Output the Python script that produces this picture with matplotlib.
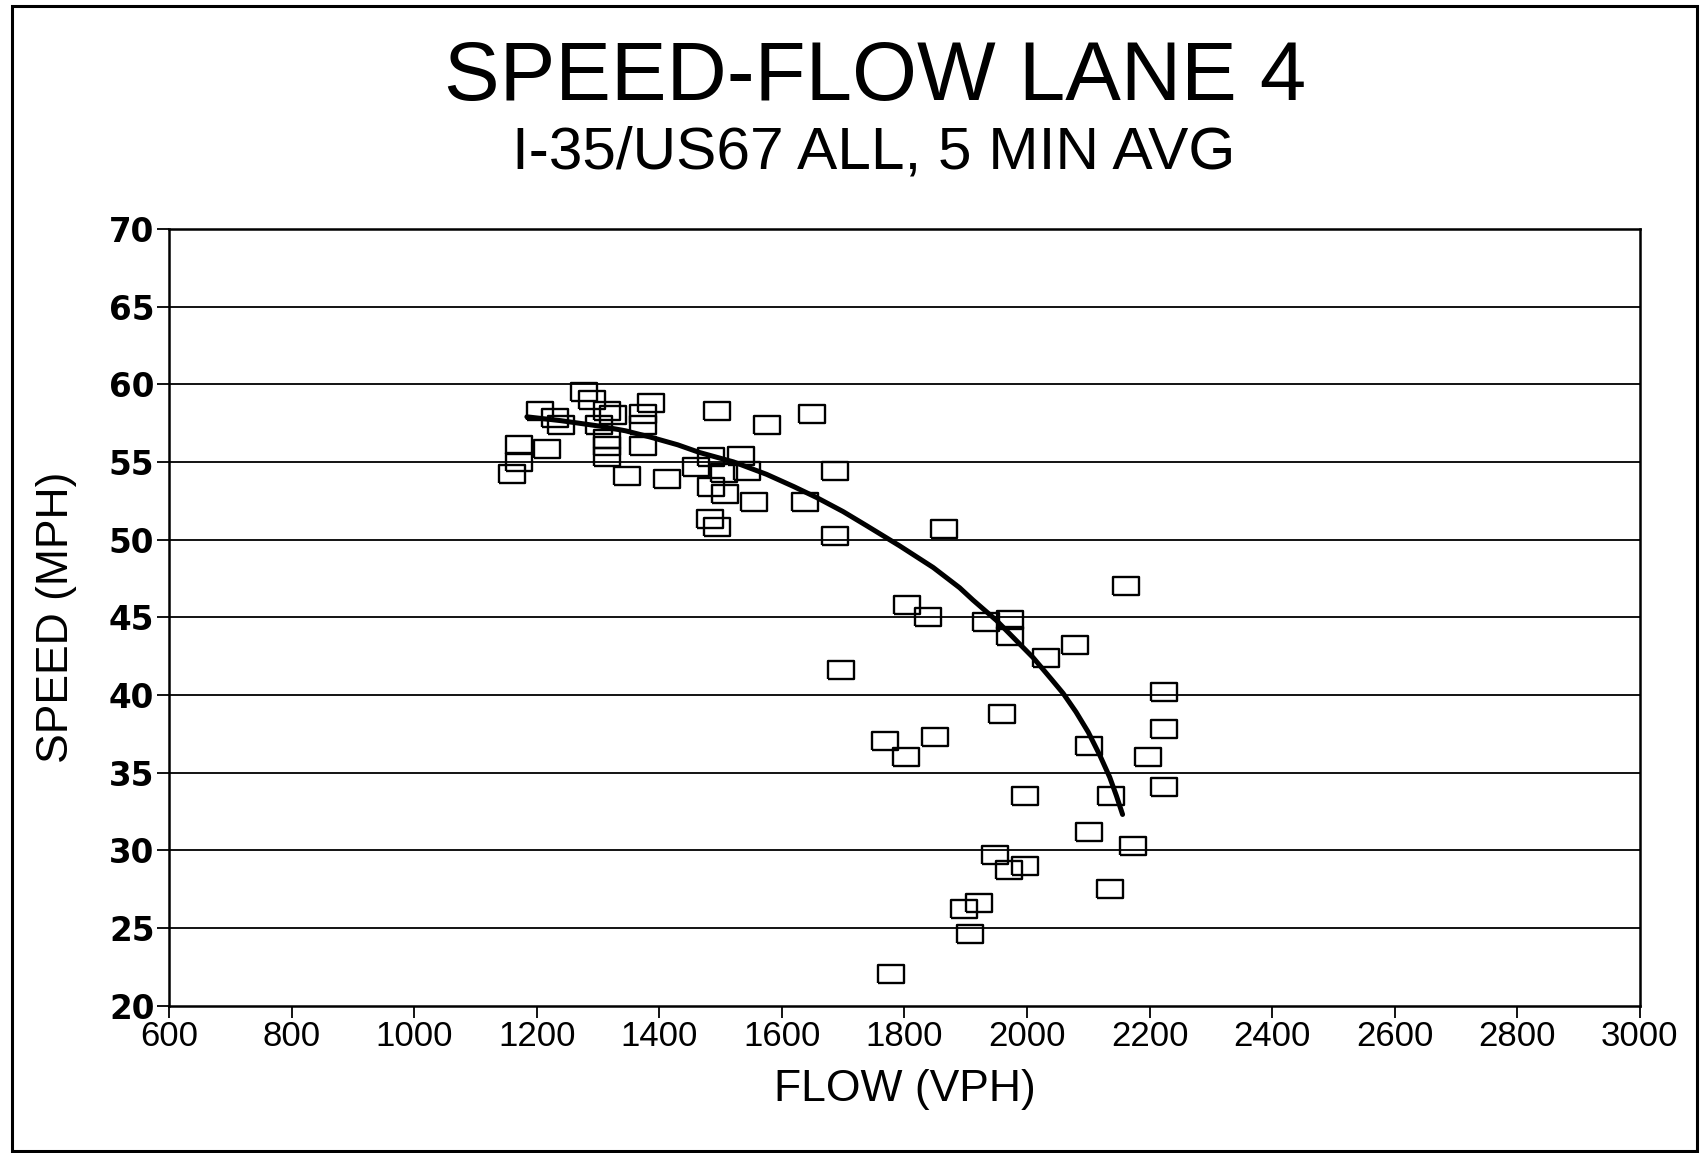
#!/usr/bin/env python3
# Speed-flow scatter for lane 4 (I-35/US67), 5 minute averages, with fitted curve.

import matplotlib
matplotlib.use("Agg")
import matplotlib.pyplot as plt
from matplotlib.patches import Rectangle

# ── observed 5-min points (flow vph, speed mph) ──
flow = [
    1278, 1290, 1205, 1230, 1240, 1315, 1325, 1302, 1386, 1373,
    1373, 1495, 1576, 1649, 1171, 1171, 1159, 1217, 1315, 1315,
    1315, 1373, 1348, 1412, 1460, 1485, 1533, 1506, 1543, 1485,
    1508, 1554, 1637, 1483, 1495, 1686, 1686, 1864,
    1804, 1839, 1933, 1972, 1972, 2031, 2078, 2162, 1697, 2224,
    1959, 1768, 1803, 1850, 2102, 2224, 2197,
    1996, 2137, 2224, 2101, 2173, 1948, 1971, 1996, 2135, 1921,
    1897, 1907, 1778,
]
speed = [
    59.5, 59.0, 58.3, 57.8, 57.4, 58.3, 58.0, 57.4, 58.8, 58.1,
    57.4, 58.3, 57.4, 58.1, 56.1, 55.0, 54.2, 55.8, 56.5, 56.0,
    55.3, 56.0, 54.1, 53.9, 54.7, 55.3, 55.4, 54.3, 54.4, 53.4,
    52.9, 52.4, 52.4, 51.3, 50.8, 54.4, 50.2, 50.7,
    45.8, 45.0, 44.7, 44.8, 43.8, 42.4, 43.2, 47.0, 41.6, 40.2,
    38.8, 37.0, 36.0, 37.3, 36.7, 37.8, 36.0,
    33.5, 33.5, 34.1, 31.2, 30.3, 29.7, 28.7, 29.0, 27.5, 26.6,
    26.2, 24.6, 22.0,
]

# ── fitted speed-flow curve ──
fit_flow = [1184, 1240, 1303, 1345, 1385, 1430, 1466, 1521, 1575, 1620,
            1657, 1700, 1738, 1792, 1847, 1890, 1912, 1950, 1985, 2010,
            2040, 2059, 2080, 2100, 2119, 2135, 2146, 2151, 2156]
fit_speed = [57.9, 57.65, 57.3, 57.0, 56.6, 56.1, 55.6, 55.0, 54.2, 53.4,
             52.7, 51.8, 50.9, 49.6, 48.2, 46.9, 46.1, 44.8, 43.4, 42.4,
             41.0, 40.1, 38.9, 37.6, 36.1, 34.7, 33.5, 32.9, 32.3]

x_ticks = list(range(600, 3001, 200))
y_ticks = list(range(20, 71, 5))

FONT = "Liberation Sans"
plt.rcParams["font.family"] = [FONT, "DejaVu Sans"]

fig = plt.figure(figsize=(17, 11.53), dpi=100)
ax = fig.add_axes([0.0994, 0.1279, 0.8652, 0.6736])

# horizontal grid only
for yv in y_ticks[1:-1]:
    ax.axhline(yv, color="black", lw=1.3, zorder=1)

box = [(-1.5, -1), (1.5, -1), (1.5, 1), (-1.5, 1), (-1.5, -1)]
ax.plot(flow, speed, linestyle="none", marker=box, markersize=18.5,
        markerfacecolor="none", markeredgecolor="black", markeredgewidth=1.7,
        zorder=3)
ax.plot(fit_flow, fit_speed, color="black", lw=3.6, solid_capstyle="round",
        solid_joinstyle="round", zorder=4)

ax.set_xlim(600, 3000)
ax.set_ylim(20, 70)
ax.set_xticks(x_ticks)
ax.set_yticks(y_ticks)
ax.tick_params(axis="both", direction="out", length=8.5, width=1.3,
               colors="black", labelsize=25, pad=2)
for lab in ax.get_yticklabels():
    lab.set_fontfamily("DejaVu Sans")
    lab.set_fontweight("bold")
    lab.set_fontsize(23.5)
for sp in ax.spines.values():
    sp.set_linewidth(1.8)
    sp.set_color("black")

ax.set_xlabel("FLOW (VPH)", fontsize=32, va="center")
ax.set_ylabel("SPEED (MPH)", fontsize=32, va="center")
ax.xaxis.set_label_coords(0.5, -0.108)
ax.yaxis.set_label_coords(-0.0765, 0.5)

fig.text(0.515, 0.932, "SPEED-FLOW LANE 4", ha="center", va="center",
         fontsize=60)
fig.text(0.514, 0.867, "I-35/US67 ALL, 5 MIN AVG", ha="center", va="center",
         fontsize=43.5)

# outer frame round the whole page
fig.patches.append(Rectangle((0.0072, 0.002), 0.991, 0.993,
                             transform=fig.transFigure, fill=False,
                             edgecolor="black", lw=2.2))

fig.savefig("out.png", dpi=100)
